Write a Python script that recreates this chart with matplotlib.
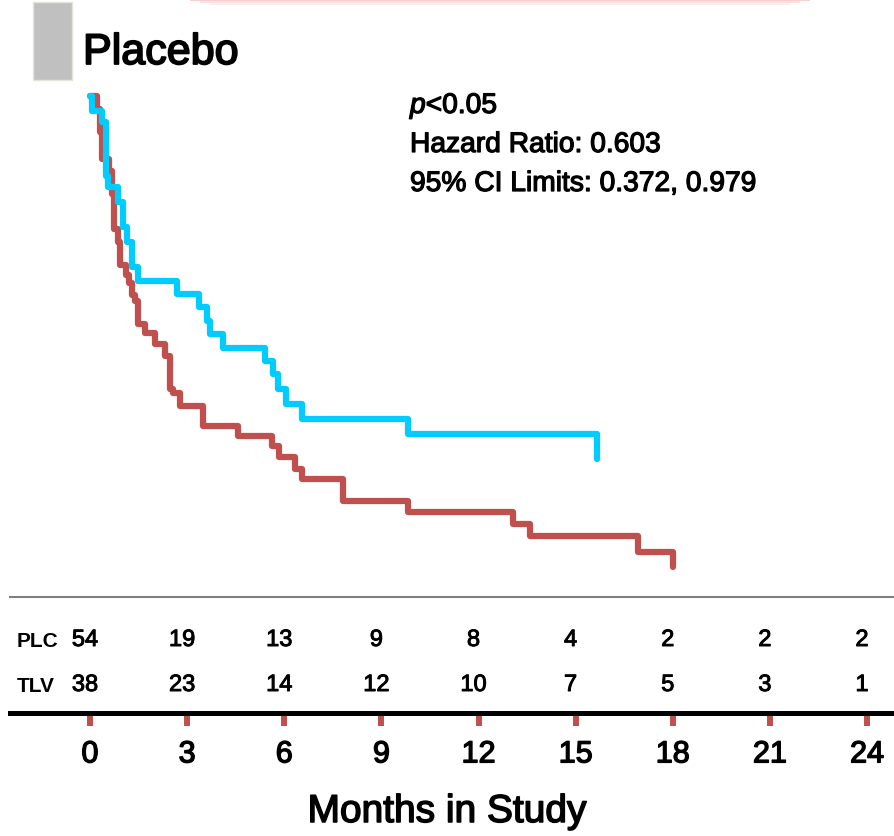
import matplotlib
matplotlib.use("Agg")
import matplotlib.pyplot as plt
import matplotlib.patheffects as pe
from matplotlib.patches import Rectangle
from matplotlib.transforms import blended_transform_factory, ScaledTranslation

plt.rcParams["font.family"] = ["Liberation Sans", "DejaVu Sans"]
plt.rcParams["mathtext.fontset"] = "custom"
plt.rcParams["mathtext.it"] = "Liberation Sans:italic"
plt.rcParams["mathtext.rm"] = "Liberation Sans"

# ---------------------------------------------------------------------------
# Data (months, survival fraction)
# ---------------------------------------------------------------------------
tlv_months = [0, 0.06, 0.37, 0.49, 0.56, 0.86, 1.02, 1.14, 1.30, 1.48, 2.69,
              3.37, 3.61, 3.71, 4.11, 5.41, 5.65, 5.81, 6.05, 6.55, 9.82, 15.66]
tlv_surv = [1.0, 0.970, 0.948, 0.840, 0.818, 0.788, 0.739, 0.709, 0.659, 0.631,
            0.605, 0.579, 0.551, 0.525, 0.497, 0.471, 0.445, 0.415, 0.385,
            0.355, 0.325, 0.275]

plc_months = [0, 0.22, 0.31, 0.37, 0.59, 0.68, 0.74, 0.86, 0.93, 1.11, 1.20,
              1.30, 1.39, 1.48, 1.70, 2.01, 2.32, 2.47, 2.56, 2.78, 3.49, 4.57,
              5.62, 5.84, 6.33, 6.55, 7.81, 9.82, 13.07, 13.59, 16.93, 18.01]
plc_surv = [1.0, 0.974, 0.928, 0.874, 0.850, 0.804, 0.735, 0.709, 0.663, 0.643,
            0.627, 0.603, 0.591, 0.545, 0.527, 0.505, 0.481, 0.415, 0.407,
            0.381, 0.341, 0.321, 0.301, 0.279, 0.255, 0.236, 0.192, 0.170,
            0.146, 0.122, 0.090, 0.060]

tick_months = [0, 3, 6, 9, 12, 15, 18, 21, 24]
plc_at_risk = [54, 19, 13, 9, 8, 4, 2, 2, 2]
tlv_at_risk = [38, 23, 14, 12, 10, 7, 5, 3, 1]

stats_lines = [r"$p$<0.05", "Hazard Ratio: 0.603", "95% CI Limits: 0.372, 0.979"]

RED = "#C0504D"
CYAN = "#00CCFF"

W, H = 894, 837


def fx(px):
    return px / W


def fy(py):
    return 1 - py / H


def heavy(w=0.9):
    # thicken the regular face a little, the original uses a semibold font
    return [pe.withStroke(linewidth=w, foreground="black")]


fig = plt.figure(figsize=(W / 100, H / 100), dpi=100)

XLIM = (-80 / 32.375, 804 / 32.375)

# main survival axes
ax = fig.add_axes([fx(10), fy(598), fx(884), 598 / H])
ax.set_xlim(*XLIM)
ax.set_ylim(0, 598 / 501)
for s in ["top", "left", "right"]:
    ax.spines[s].set_visible(False)
ax.spines["bottom"].set_color("#808080")
ax.spines["bottom"].set_linewidth(1.5)
ax.set_xticks([])
ax.set_yticks([])

ax.plot(plc_months, plc_surv, drawstyle="steps-post", color=RED, lw=4.5,
        solid_capstyle="round", solid_joinstyle="round")
ax.plot(tlv_months, tlv_surv, drawstyle="steps-post", color=CYAN, lw=4.5,
        solid_capstyle="round", solid_joinstyle="round")

# number at risk table
trans = blended_transform_factory(ax.transData, fig.transFigure) + \
    ScaledTranslation(-5 / 100, 0, fig.dpi_scale_trans)
for m, n in zip(tick_months, plc_at_risk):
    ax.text(m, fy(647), str(n), transform=trans, ha="center", va="baseline",
            fontsize=17, path_effects=heavy(0.7))
for m, n in zip(tick_months, tlv_at_risk):
    ax.text(m, fy(692), str(n), transform=trans, ha="center", va="baseline",
            fontsize=17, path_effects=heavy(0.7))
fig.text(fx(17), fy(647), "PLC", fontsize=15, fontweight="bold")
fig.text(fx(17), fy(692), "TLV", fontsize=15, fontweight="bold")

# bottom month axis
ax2 = fig.add_axes([fx(10), fy(714), fx(884), 0.001])
ax2.set_xlim(*XLIM)
for s in ["top", "left", "right"]:
    ax2.spines[s].set_visible(False)
ax2.spines["bottom"].set_linewidth(3.6)
ax2.spines["bottom"].set_color("black")
ax2.set_yticks([])
ax2.set_xticks(tick_months)
ax2.set_xticklabels([str(m) for m in tick_months])
ax2.tick_params(axis="x", direction="out", length=9, width=4.3, color=RED,
                pad=10, labelsize=22)
for lbl in ax2.get_xticklabels():
    lbl.set_path_effects(heavy(1.0))
fig.text(fx(447), fy(823), "Months in Study", fontsize=28, ha="center",
         va="baseline", path_effects=heavy(1.1))

# title block
fig.patches.append(Rectangle((fx(33), fy(81)), fx(39), 78 / H,
                             transform=fig.transFigure, facecolor="#C0C0C0",
                             edgecolor="#E4E4DC", lw=1))
fig.text(fx(83), fy(65), "Placebo", fontsize=31, va="baseline",
         path_effects=heavy(1.3))

# faint pink edge of a box above the chart
for i, a in enumerate([0.55, 0.35, 0.18]):
    fig.patches.append(Rectangle((fx(190 + i * 10), fy(2 + 2 * i)), fx(620 - i * 20),
                                 2 / H, transform=fig.transFigure,
                                 facecolor="#F4A9A9", edgecolor="none", alpha=a))

# stats annotation
for i, line in enumerate(stats_lines):
    fig.text(fx(410), fy(114 + 39 * i), line, fontsize=20.3, va="baseline",
             path_effects=heavy(0.9))

fig.savefig("out.png", dpi=100)
